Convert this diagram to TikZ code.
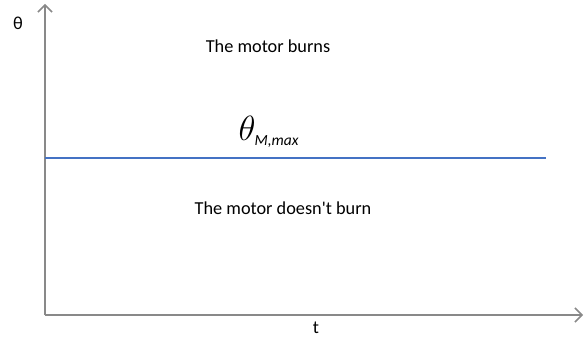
\documentclass[tikz,border=0pt]{standalone}
\usepackage{amsmath}
\usepackage{fontspec}
\setmainfont{Carlito}
\usetikzlibrary{arrows.meta}
\definecolor{axisgray}{RGB}{137,137,137}
\definecolor{limitblue}{RGB}{68,114,196}
\tikzset{
    region/.style={font=\fontsize{13}{15}\selectfont},
    axislabel/.style={font=\fontsize{13}{15}\selectfont}
}
\begin{document}
\begin{tikzpicture}[x=0.025cm, y=-0.025cm, >={Straight Barb[length=5pt, width=10pt]}]

    % Rahmen
    \useasboundingbox (0, 0) rectangle (584, 340);

    % Achsen
    \coordinate (origin) at (45, 315);
    \coordinate (ytip) at (45, 4);
    \coordinate (xtip) at (583, 315);
    \draw[->, axisgray, line width=1.1pt] (origin) -- (ytip);
    \draw[->, axisgray, line width=1.1pt] (origin) -- (xtip);
    \node[axislabel] (ylabel) at (18, 23) {θ};
    \node[axislabel] (xlabel) at (316, 328) {t};

    % Grenztemperatur
    \coordinate (limitL) at (45, 158);
    \coordinate (limitR) at (546, 158);
    \draw[limitblue, line width=2pt] (limitL) -- (limitR);
    \node (limit) at (269, 132) {\fontsize{23}{25}\selectfont$\theta_{\text{\fontsize{11}{13}\selectfont\itshape M,max}}$};

    % Bereiche
    \node[region] (burns) at (268, 46) {The motor burns};
    \node[region] (safe) at (283, 208) {The motor doesn\textquotesingle t burn};

\end{tikzpicture}
\end{document}
